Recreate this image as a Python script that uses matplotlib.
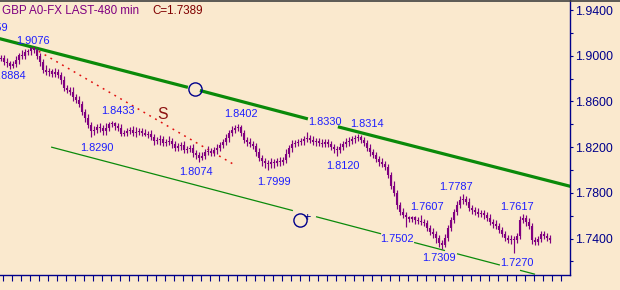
import numpy as np
import matplotlib
matplotlib.use("Agg")
import matplotlib.pyplot as plt
from matplotlib.lines import Line2D
from matplotlib.ticker import MultipleLocator, FormatStrFormatter, FixedLocator, NullFormatter

# ---------------- data ----------------
closes = [
    1.8980, 1.8945, 1.8936, 1.8910, 1.8928, 1.8963, 1.9006, 1.8998, 1.9033, 1.9041,
    1.9068, 1.9050, 1.8998, 1.8945, 1.8875, 1.8858, 1.8866, 1.8840, 1.8858, 1.8831,
    1.8788, 1.8718, 1.8700, 1.8683, 1.8639, 1.8613, 1.8578, 1.8508, 1.8455, 1.8394,
    1.8341, 1.8350, 1.8376, 1.8368, 1.8341, 1.8368, 1.8403, 1.8411, 1.8385, 1.8368,
    1.8315, 1.8324, 1.8341, 1.8350, 1.8324, 1.8333, 1.8341, 1.8324, 1.8306, 1.8315,
    1.8289, 1.8254, 1.8263, 1.8271, 1.8236, 1.8245, 1.8254, 1.8228, 1.8193, 1.8210,
    1.8219, 1.8175, 1.8184, 1.8193, 1.8149, 1.8131, 1.8105, 1.8123, 1.8158, 1.8166,
    1.8149, 1.8175, 1.8193, 1.8219, 1.8245, 1.8280, 1.8324, 1.8350, 1.8368, 1.8376,
    1.8324, 1.8263, 1.8245, 1.8228, 1.8210, 1.8158, 1.8105, 1.8079, 1.8061, 1.8053,
    1.8070, 1.8061, 1.8079, 1.8070, 1.8088, 1.8140, 1.8193, 1.8228, 1.8236, 1.8245,
    1.8254, 1.8271, 1.8280, 1.8263, 1.8245, 1.8254, 1.8236, 1.8228, 1.8245, 1.8228,
    1.8201, 1.8184, 1.8175, 1.8201, 1.8228, 1.8245, 1.8254, 1.8271, 1.8280, 1.8289,
    1.8263, 1.8236, 1.8193, 1.8158, 1.8131, 1.8096, 1.8070, 1.8053, 1.8026, 1.7956,
    1.7863, 1.7799, 1.7694, 1.7633, 1.7606, 1.7589, 1.7571, 1.7589, 1.7563, 1.7554,
    1.7545, 1.7536, 1.7493, 1.7458, 1.7440, 1.7405, 1.7361, 1.7344, 1.7405, 1.7493,
    1.7563, 1.7633, 1.7694, 1.7738, 1.7746, 1.7720, 1.7668, 1.7650, 1.7633, 1.7615,
    1.7624, 1.7606, 1.7580, 1.7545, 1.7528, 1.7510, 1.7475, 1.7440, 1.7405, 1.7388,
    1.7396, 1.7388, 1.7423, 1.7563, 1.7580, 1.7545, 1.7510, 1.7388, 1.7370, 1.7396,
    1.7440, 1.7423, 1.7405, 1.7389,
]
# wick extension above / below the body, in pips (0.0001)
hi_ext_pips = [
    30, 25, 38, 22, 28, 35, 22, 40, 30, 20, 8, 4, 18, 25, 30, 45, 28, 22, 35, 30,
    28, 38, 25, 30, 40, 28, 35, 25, 30, 38, 28, 32, 25, 38, 30, 40, 20, 22, 12, 30,
    38, 28, 30, 25, 35, 42, 28, 25, 32, 30, 38, 25, 28, 35, 30, 25, 40, 28, 30, 25,
    30, 35, 25, 28, 38, 30, 25, 32, 28, 45, 30, 25, 35, 28, 30, 38, 25, 35, 22, 26,
    15, 30, 25, 38, 30, 28, 35, 25, 30, 28, 38, 30, 25, 32, 28, 40, 25, 35, 30, 28,
    30, 25, 50, 28, 35, 30, 25, 38, 28, 30, 25, 30, 28, 35, 25, 32, 38, 30, 25, 25,
    15, 25, 30, 38, 25, 30, 28, 35, 25, 30, 28, 38, 30, 25, 32, 28, 10, 10, 10, 30,
    53, 25, 30, 28, 38, 30, 25, 28, 35, 30, 25, 28, 32, 35, 41, 25, 35, 25, 30, 38,
    28, 30, 25, 35, 28, 38, 30, 25, 30, 28, 32, 25, 28, 35, 37, 25, 35, 25, 30, 28,
    30, 25, 28, 25,
]
lo_ext_pips = [
    28, 30, 35, 26, 15, 25, 35, 28, 30, 25, 38, 28, 25, 32, 30, 28, 38, 25, 30, 28,
    35, 25, 30, 28, 38, 30, 25, 28, 35, 25, 51, 35, 28, 38, 35, 32, 28, 25, 35, 30,
    18, 18, 25, 30, 25, 35, 25, 30, 10, 28, 25, 32, 28, 40, 25, 30, 28, 35, 25, 30,
    38, 28, 30, 25, 32, 35, 31, 20, 30, 28, 30, 25, 38, 30, 28, 25, 32, 28, 30, 25,
    30, 28, 38, 25, 30, 35, 28, 40, 40, 54, 35, 40, 25, 35, 28, 30, 25, 38, 28, 30,
    25, 32, 28, 30, 25, 35, 28, 30, 25, 30, 28, 38, 55, 28, 30, 25, 32, 28, 35, 25,
    30, 28, 25, 35, 30, 28, 38, 25, 30, 28, 32, 25, 35, 28, 25, 87, 30, 28, 38, 25,
    30, 28, 25, 30, 35, 40, 35, 35, 20, 25, 30, 28, 25, 30, 32, 28, 25, 35, 30, 28,
    25, 32, 28, 30, 38, 28, 25, 30, 30, 28, 35, 118, 28, 30, 25, 32, 28, 38, 30, 25,
    28, 30, 25, 28,
]

title_text = "GBP A0-FX LAST-480 min"
last_text = "C=1.7389"
y_major = [1.74, 1.78, 1.82, 1.86, 1.90, 1.94]

swing_labels = ["1.9059", "1.9076", "1.8884", "1.8433", "1.8402", "1.8290", "1.8074",
                "1.7999", "1.8330", "1.8314", "1.8120", "1.7787", "1.7607", "1.7617",
                "1.7502", "1.7309", "1.7270"]
swing_x = [2.33, 10.67, 8.33, 39, 80, 32, 65, 91, 108, 122, 114, 151.67, 142, 172, 132, 146, 172]
swing_y = [1.9243, 1.9129, 1.8822, 1.8516, 1.8490, 1.8193, 1.7982, 1.7895, 1.8420,
           1.8403, 1.8035, 1.7851, 1.7676, 1.7676, 1.7396, 1.7230, 1.7186]
swing_ha = ["right", "center", "right"] + ["center"] * 14

# channel lines (bar index, price)
chan_x = [0, 189]
chan_top = [1.9153, 1.7849]
chan_bot = [1.8316, 1.7012]
speed_x = [10.67, 77.33]
speed_y = [1.9068, 1.8053]

# ---------------- style ----------------
BG = "#FAE9CE"
NAVY = "#00008B"
PURPLE = "#800080"
BLUE = "#1E1EFF"
GREEN = "#0A8A0A"
DKRED = "#8B1010"

plt.rcParams["font.family"] = ["Liberation Sans", "DejaVu Sans"]

W, H = 620, 290
fig = plt.figure(figsize=(W / 100, H / 100), dpi=100, facecolor=BG)
ax = fig.add_axes([0, 15 / H, 570 / W, 275 / H], facecolor=BG)

n = len(closes)
x = np.arange(n)
c = np.array(closes)
o = np.concatenate([[c[0]], c[:-1]])
top = np.maximum(o, c)
bot = np.minimum(o, c)
hi = top + np.array(hi_ext_pips) * 1e-4
lo = bot - np.array(lo_ext_pips) * 1e-4
bot_vis = np.minimum(bot, top - 0.0008)

ax.vlines(x, lo, hi, color=PURPLE, lw=0.85, zorder=3)
ax.vlines(x, bot_vis, top, color=PURPLE, lw=1.5, zorder=3)

# channel
def line_at(xs, pts):
    return np.interp(xs, chan_x, pts)

for a, b in [(-1, 62.3), (66.3, 102.3), (112.3, 191)]:
    xs = np.array([a, b])
    ax.plot(xs, line_at(xs, chan_top), color=GREEN, lw=2.3, solid_capstyle="butt", zorder=2)
for a, b in [(16.7, 97.3), (105, 126.7), (137.7, 148), (152, 166.3), (173, 178)]:
    xs = np.array([a, b])
    ax.plot(xs, line_at(xs, chan_bot), color=GREEN, lw=0.9, solid_capstyle="butt", zorder=2)

ax.plot(speed_x, speed_y, color="#E01010", lw=1.1, ls=(0, (1.2, 3.2)), zorder=2)

# circle markers
ax.plot([64.67], [line_at(64.67, chan_top)], marker="o", ms=9.5, mfc="none", mec=NAVY, mew=1.0, zorder=4)
ax.plot([99.67], [1.7563], marker="o", ms=9.5, mfc="none", mec=NAVY, mew=1.0, zorder=4)
ax.text(102.0, 1.7580, "+", color=NAVY, fontsize=9, ha="center", va="center")

ax.text(53.7, 1.8490, "S", color=DKRED, fontsize=11.3, ha="center", va="center")

for lab, sx, sy, ha in zip(swing_labels, swing_x, swing_y, swing_ha):
    ax.text(sx, sy, lab, color=BLUE, fontsize=7.9, ha=ha, va="center", zorder=5)

# axes
ax.set_xlim(-1 / 3, 190 - 1 / 3)
ax.set_ylim(1.70813, 1.94875)
ax.yaxis.tick_right()
ax.yaxis.set_major_locator(FixedLocator(y_major))
ax.yaxis.set_minor_locator(MultipleLocator(0.02))
ax.yaxis.set_major_formatter(FormatStrFormatter("%.4f"))
ax.tick_params(axis="y", which="major", length=2.4, width=0.8, color=NAVY,
               labelcolor=NAVY, labelsize=8.9, pad=1.2, direction="out")
ax.tick_params(axis="y", which="minor", length=2.0, width=0.8, color=NAVY, direction="out")
ax.xaxis.set_major_locator(FixedLocator(np.arange(0.8, 188, 3)))
ax.xaxis.set_major_formatter(NullFormatter())
ax.tick_params(axis="x", which="major", length=4.3, width=0.8, color=NAVY, direction="out")
for s in ["left", "top"]:
    ax.spines[s].set_visible(False)
for s in ["right", "bottom"]:
    ax.spines[s].set_color(NAVY)
    ax.spines[s].set_linewidth(1.0)

fig.text(2 / W, 1 - 11 / H, title_text, color=PURPLE, fontsize=8.4, ha="left", va="center")
fig.text(152 / W, 1 - 11 / H, last_text, color="#800000", fontsize=8.4, ha="left", va="center")

fig.add_artist(Line2D([0, 1], [1 - 0.6 / H, 1 - 0.6 / H], color="#404040", lw=1.2,
                      transform=fig.transFigure))

fig.savefig("out.png", dpi=100, facecolor=BG)
